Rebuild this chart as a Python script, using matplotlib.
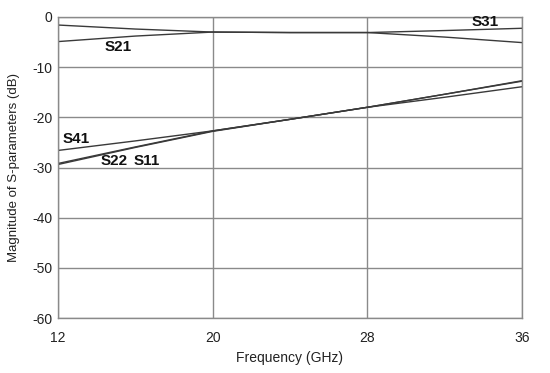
import matplotlib
matplotlib.use("Agg")
import matplotlib.pyplot as plt

plt.rcParams['font.family'] = ['Liberation Sans', 'DejaVu Sans']

freq = [12, 16, 20, 24, 28, 32, 36]
s31 = [-1.6, -2.4, -3.0, -3.1, -3.1, -2.7, -2.25]
s21 = [-4.9, -3.8, -3.0, -3.1, -3.1, -4.0, -5.1]
s41 = [-26.6, -24.7, -22.7, -20.4, -18.0, -16.0, -13.9]
s11 = [-29.2, -25.9, -22.7, -20.4, -18.0, -15.4, -12.7]
s22 = [-29.4, -26.0, -22.8, -20.4, -18.0, -15.4, -12.8]

xticks = [12, 20, 28, 36]
yticks = [0, -10, -20, -30, -40, -50, -60]

fig = plt.figure(figsize=(5.5, 3.73), dpi=100)
ax = fig.add_axes([58/550, 1-318/373, (522-58)/550, (318-17)/373])

lc = '#3a3a3a'
for s in [s31, s21, s41, s11, s22]:
    ax.plot(freq, s, color=lc, lw=1.0)

ax.set_xlim(12, 36)
ax.set_ylim(-60, 0)
ax.set_xticks(xticks)
ax.set_yticks(yticks)
ax.set_yticklabels([str(v) for v in yticks])
ax.grid(True, color='#8a8a8a', lw=1.0)
ax.tick_params(axis='x', length=0, labelsize=10, colors='#222222', pad=9)
ax.tick_params(axis='y', length=0, labelsize=10, colors='#222222', pad=4)
for sp in ax.spines.values():
    sp.set_color('#8a8a8a')
    sp.set_linewidth(1.0)
ax.set_axisbelow(True)

ax.set_xlabel('Frequency (GHz)', fontsize=10, color='#222222', labelpad=5)
ax.set_ylabel('Magnitude of S-parameters (dB)', fontsize=9.5, color='#222222', labelpad=9)

kw = dict(fontsize=11, fontweight='bold', color='#111111', va='center')
ax.text(14.4, -6.0, 'S21', **kw)
ax.text(33.4, -1.0, 'S31', **kw)
ax.text(12.25, -24.4, 'S41', **kw)
ax.text(14.2, -28.8, 'S22', **kw)
ax.text(15.9, -28.8, 'S11', **kw)

fig.savefig('out.png', dpi=100)
